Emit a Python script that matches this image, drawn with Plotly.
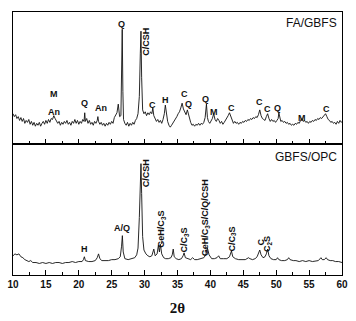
import plotly.graph_objects as go
from plotly.subplots import make_subplots

# ---- FA/GBFS (upper pattern) ----
tt_top = [10.0, 10.2, 10.4, 10.6, 10.8, 11.0, 11.2, 11.4, 11.6, 11.8, 12.0, 12.2, 12.4, 12.6, 12.8,
          13.0, 13.2, 13.4, 13.6, 13.8, 14.0, 14.2, 14.4, 14.6, 14.8, 15.0, 15.2, 15.4, 15.6, 15.8,
          16.0, 16.2, 16.4, 16.6, 16.8, 17.0, 17.2, 17.4, 17.6, 17.8, 18.0, 18.2, 18.4, 18.6, 18.8,
          19.0, 19.2, 19.4, 19.6, 19.8, 20.0, 20.2, 20.4, 20.6, 20.8, 20.9, 21.0, 21.2, 21.4, 21.6,
          21.8, 22.0, 22.2, 22.4, 22.6, 22.8, 22.9, 23.0, 23.2, 23.4, 23.6, 23.8, 24.0, 24.2, 24.4,
          24.6, 24.8, 25.0, 25.2, 25.4, 25.6, 25.8, 26.0, 26.2, 26.4, 26.5, 26.6, 26.7, 26.8, 27.0,
          27.2, 27.4, 27.6, 27.8, 28.0, 28.2, 28.4, 28.6, 28.8, 29.0, 29.2, 29.35, 29.45, 29.55, 29.7,
          29.9, 30.1, 30.3, 30.5, 30.7, 30.9, 31.1, 31.25, 31.4, 31.6, 31.8, 32.0, 32.2, 32.4, 32.6,
          32.8, 33.0, 33.15, 33.3, 33.5, 33.7, 33.9, 34.1, 34.3, 34.5, 34.7, 34.9, 35.1, 35.3, 35.5,
          35.7, 35.9, 36.1, 36.3, 36.5, 36.65, 36.8, 37.0, 37.2, 37.4, 37.6, 37.8, 38.0, 38.2, 38.4,
          38.6, 38.8, 39.0, 39.2, 39.4, 39.55, 39.7, 39.9, 40.1, 40.3, 40.5, 40.7, 40.9, 41.1, 41.3,
          41.5, 41.7, 41.9, 42.1, 42.3, 42.5, 42.7, 42.9, 43.1, 43.3, 43.5, 43.7, 43.9, 44.1, 44.3,
          44.5, 44.7, 44.9, 45.1, 45.3, 45.5, 45.7, 45.9, 46.1, 46.3, 46.5, 46.7, 46.9, 47.1, 47.3,
          47.5, 47.7, 47.9, 48.1, 48.3, 48.5, 48.7, 48.9, 49.1, 49.3, 49.5, 49.7, 49.9, 50.1, 50.3,
          50.4, 50.55, 50.7, 50.9, 51.1, 51.3, 51.5, 51.7, 51.9, 52.1, 52.3, 52.5, 52.7, 52.9, 53.1,
          53.3, 53.5, 53.7, 53.9, 54.1, 54.3, 54.5, 54.7, 54.9, 55.1, 55.3, 55.5, 55.7, 55.9, 56.1,
          56.3, 56.5, 56.7, 56.9, 57.1, 57.3, 57.5, 57.7, 57.9, 58.1, 58.3, 58.5, 58.7, 58.9, 59.1,
          59.3, 59.5, 59.7, 59.9, 60.0]
int_top = [32, 29, 31, 27, 29, 25, 28, 24, 27, 22, 25, 23, 26, 21, 24,
           20, 23, 19, 22, 20, 23, 19, 22, 24, 21, 25, 22, 26, 23, 27,
           26, 30, 27, 25, 22, 24, 20, 23, 21, 24, 22, 25, 21, 23, 20,
           24, 22, 26, 22, 25, 21, 24, 22, 26, 24, 33, 24, 27, 22, 25,
           21, 23, 20, 24, 22, 25, 29, 24, 21, 23, 20, 22, 19, 22, 20,
           23, 21, 24, 22, 28, 30, 33, 42, 29, 30, 60, 120, 55, 26, 22,
           20, 23, 19, 22, 20, 23, 21, 25, 27, 32, 50, 95, 118, 70, 36,
           32, 34, 30, 33, 31, 34, 32, 38, 30, 27, 24, 26, 23, 25, 22,
           26, 32, 41, 32, 24, 20, 18, 20, 22, 25, 27, 29, 32, 34, 38,
           43, 37, 34, 31, 36, 32, 26, 23, 20, 21, 19, 21, 20, 22, 20,
           22, 21, 23, 28, 42, 28, 24, 22, 25, 27, 32, 26, 24, 27, 25,
           22, 24, 21, 23, 25, 28, 30, 33, 29, 24, 22, 24, 22, 23, 21,
           23, 22, 24, 23, 25, 24, 26, 25, 27, 26, 28, 27, 29, 28, 31,
           36, 30, 27, 26, 25, 29, 32, 27, 24, 26, 24, 25, 23, 25, 27,
           33, 26, 24, 25, 23, 24, 22, 23, 21, 22, 20, 21, 20, 22, 21,
           23, 22, 25, 27, 24, 25, 23, 24, 22, 24, 23, 25, 24, 26, 25,
           27, 26, 28, 27, 29, 30, 32, 29, 26, 25, 23, 24, 22, 23, 21,
           24, 22, 25, 23, 24]

# ---- GBFS/OPC (lower pattern) ----
tt_bot = [10.0, 10.3, 10.6, 10.9, 11.2, 11.5, 11.8, 12.1, 12.4, 12.7, 13.0, 13.5, 14.0, 14.5, 15.0,
          15.5, 16.0, 16.5, 17.0, 17.5, 18.0, 18.5, 19.0, 19.5, 20.0, 20.5, 20.7, 20.85, 21.0, 21.5,
          22.0, 22.5, 22.8, 23.0, 23.2, 23.5, 24.0, 24.5, 25.0, 25.5, 26.0, 26.3, 26.5, 26.62, 26.75,
          27.0, 27.5, 28.0, 28.5, 28.8, 29.0, 29.2, 29.35, 29.45, 29.55, 29.7, 29.9, 30.2, 30.5, 30.8,
          31.1, 31.4, 31.6, 31.9, 32.1, 32.25, 32.4, 32.6, 32.9, 33.2, 33.6, 34.0, 34.2, 34.35, 34.5,
          34.8, 35.2, 35.6, 35.85, 36.0, 36.2, 36.5, 37.0, 37.3, 37.6, 38.0, 38.5, 39.0, 39.3, 39.55,
          39.8, 40.2, 40.6, 41.0, 41.25, 41.5, 42.0, 42.5, 42.9, 43.2, 43.4, 43.8, 44.3, 44.8, 45.3,
          45.8, 46.0, 46.4, 46.8, 47.1, 47.3, 47.5, 47.7, 48.0, 48.3, 48.5, 48.7, 48.9, 49.2, 49.6,
          50.0, 50.2, 50.4, 50.8, 51.3, 51.7, 51.9, 52.1, 52.6, 53.0, 53.5, 54.0, 54.5, 55.0, 55.5,
          56.0, 56.4, 56.8, 57.0, 57.3, 57.6, 57.8, 58.2, 58.6, 59.0, 59.5, 60.0]
int_bot = [20, 22, 21, 22, 19, 18, 16, 15, 14, 15, 13, 13, 12, 13, 12,
           13, 12, 13, 13, 12, 13, 13, 14, 13, 14, 14, 16, 19, 15, 14,
           14, 15, 18, 22, 17, 15, 15, 15, 16, 16, 17, 19, 30, 41, 24,
           17, 16, 17, 18, 21, 28, 60, 100, 116, 85, 40, 26, 22, 20, 19,
           20, 27, 20, 22, 31, 24, 32, 22, 18, 17, 17, 18, 21, 27, 19,
           17, 16, 17, 20, 23, 18, 17, 16, 18, 16, 16, 17, 18, 21, 28,
           21, 17, 17, 18, 20, 17, 17, 17, 19, 25, 19, 17, 16, 16, 16,
           18, 17, 16, 17, 19, 22, 26, 21, 18, 19, 22, 27, 20, 17, 16,
           16, 18, 16, 15, 15, 16, 18, 16, 15, 15, 14, 15, 14, 15, 14,
           15, 15, 18, 16, 16, 18, 16, 15, 15, 14, 14, 13]

# ---- phase labels: (text, 2theta, height, rotated) ----
labels_top = [("M", 16.2, 53, False), ("An", 16.3, 34, False), ("Q", 20.8, 43, False),
              ("An", 23.3, 38, False), ("Q", 26.5, 125, False), ("C/CSH", 30.2, 107, True),
              ("C", 31.2, 41, False), ("H", 33.2, 46, False), ("C", 36.0, 53, False),
              ("Q", 36.6, 42, False), ("Q", 39.2, 47, False), ("M", 40.5, 34, False),
              ("C", 43.2, 38, False), ("C", 47.4, 44, False), ("C", 48.7, 37, False),
              ("Q", 50.2, 38, False), ("M", 53.9, 28, False), ("C", 57.7, 37, False)]
labels_bot = [("H", 20.8, 27, False), ("A/Q", 26.5, 49, False), ("C/CSH", 30.2, 106, True),
              ("GeH/C<sub>3</sub>S", 32.6, 48, True), ("C/C<sub>3</sub>S", 36.0, 36, True),
              ("GeH/C<sub>3</sub>S/C/Q/CSH", 39.3, 60, True), ("C/C<sub>3</sub>S", 43.3, 37, True),
              ("C", 47.7, 34, True), ("C<sub>2</sub>S", 48.7, 32, True)]
sample_names = ["FA/GBFS", "GBFS/OPC"]
x_ticks = [10, 15, 20, 25, 30, 35, 40, 45, 50, 55, 60]

FONT = "Liberation Sans, Arial, sans-serif"

fig = make_subplots(rows=2, cols=1, shared_xaxes=True, vertical_spacing=0,
                    row_heights=[0.5036, 0.4964])
fig.add_trace(go.Scatter(x=tt_top, y=int_top, mode="lines",
                         line=dict(color="#111", width=0.9), showlegend=False), row=1, col=1)
fig.add_trace(go.Scatter(x=tt_bot, y=int_bot, mode="lines",
                         line=dict(color="#111", width=0.9), showlegend=False), row=2, col=1)

for row, labs in ((1, labels_top), (2, labels_bot)):
    xr = "x" if row == 1 else "x2"
    yr = "y" if row == 1 else "y2"
    for txt, xv, yv, rot in labs:
        fig.add_annotation(x=xv, y=yv, xref=xr, yref=yr, text="<b>" + txt + "</b>",
                           showarrow=False, textangle=-90 if rot else 0,
                           font=dict(family=FONT, size=9, color="#111"))

fig.add_annotation(x=59.6, y=127, xref="x", yref="y", text=sample_names[0], showarrow=False,
                   xanchor="right", font=dict(family=FONT, size=12, color="#111"))
fig.add_annotation(x=59.6, y=123, xref="x2", yref="y2", text=sample_names[1], showarrow=False,
                   xanchor="right", font=dict(family=FONT, size=12, color="#111"))

ax_common = dict(range=[10, 60], tickvals=x_ticks, ticks="inside", ticklen=5, tickwidth=1,
                 tickcolor="black", showline=True, linecolor="black", linewidth=1, mirror=True,
                 showgrid=False, zeroline=False,
                 minor=dict(dtick=2.5, tick0=10, ticks="inside", ticklen=3, tickcolor="black"))
fig.update_xaxes(**ax_common, showticklabels=False, row=1, col=1)
fig.update_xaxes(**ax_common, showticklabels=True,
                 ticktext=["<b>%d</b>" % t for t in x_ticks],
                 tickfont=dict(family=FONT, size=10, color="#111"),
                 title=dict(text="<b>2θ</b>", standoff=13,
                            font=dict(family="Liberation Serif, Times New Roman, serif", size=15,
                                      color="#111")),
                 row=2, col=1)
fig.update_yaxes(showline=True, linecolor="black", linewidth=1, mirror=True, ticks="",
                 showticklabels=False, showgrid=False, zeroline=False)
fig.update_yaxes(range=[0, 138], row=1, col=1)
fig.update_yaxes(range=[0, 136], row=2, col=1)

fig.update_layout(width=356, height=321, margin=dict(l=7, r=14, t=12, b=34),
                  paper_bgcolor="white", plot_bgcolor="white")
fig.write_html("out.html")
